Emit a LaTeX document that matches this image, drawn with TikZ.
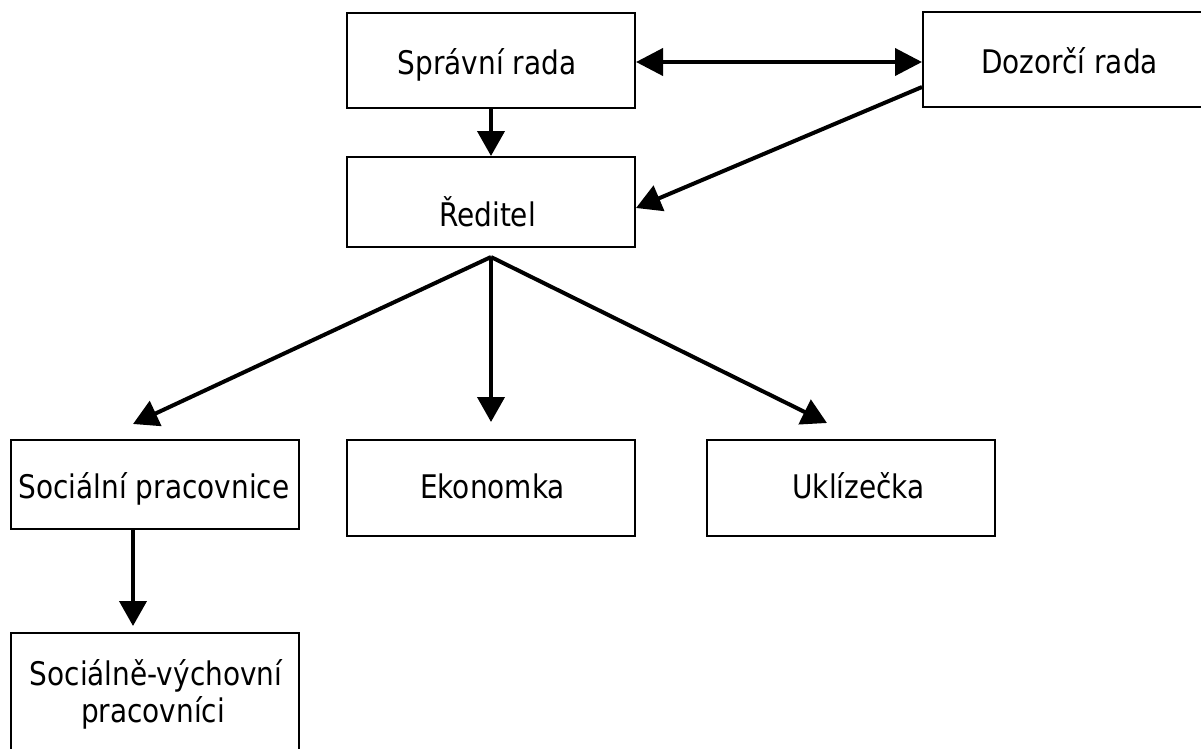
\documentclass[tikz,border=0pt]{standalone}
\usepackage{fontspec}
\setmainfont{DejaVu Sans}[FakeStretch=0.86]
\usetikzlibrary{arrows.meta,calc}
\begin{document}
\begin{tikzpicture}[x=1pt,y=-1pt,
  box/.style={draw, line width=2pt, rectangle, inner sep=0pt, minimum width=288pt},
  txt/.style={anchor=base, inner sep=0pt, font=\fontsize{32.5}{37}\selectfont},
  arr/.style={line width=4pt, -{Triangle[length=25pt,width=27pt]}},
  darr/.style={line width=4pt, {Triangle[length=27pt,width=27pt]}-{Triangle[length=27pt,width=27pt]}}]
\fill[white] (0,0) rectangle (1201,748);
\useasboundingbox (0,0) rectangle (1201,748);
\clip (0,0) rectangle (1201,748);
% boxes
\node[box, minimum height=95pt] (spr) at (491,60.5) {};
\node[box, minimum width=293pt, minimum height=95pt] (dozor) at (1069.5,59.5) {};
\node[box, minimum height=90pt] (red) at (491,202) {};
\node[box, minimum height=89pt] (soc) at (155,484.5) {};
\node[box, minimum height=96pt] (eko) at (491,488) {};
\node[box, minimum height=96pt] (ukl) at (851,488) {};
\node[box, minimum height=140pt] (sv) at (155,703) {};
% texts
\node[txt] (sprT) at (487,74) {Správní rada};
\node[txt] (dozorT) at (1069.5,73) {Dozorčí rada};
\node[txt] (redT) at (487.5,226) {Ředitel};
\node[txt] (socT) at (154,498) {Sociální pracovnice};
\node[txt] (ekoT) at (492.5,498) {Ekonomka};
\node[txt] (uklT) at (858.5,498) {Uklízečka};
\node[txt] (svT1) at (156,685) {Sociálně-výchovní};
\node[txt] (svT2) at (153,722) {pracovníci};
% connectors
\draw[darr] ($(spr.east)+(0,1.5)$) -- ($(dozor.west)+(0,2.5)$);
\draw[arr] (spr.south) -- (red.north);
\draw[arr] ($(dozor.west)+(0,27.5)$) -- ($(red.east)+(0,6)$);
\coordinate (fan) at ($(red.south)+(0,9)$);
\draw[arr] (fan) -- ($(soc.north)+(-22,-15)$);
\draw[arr] (fan) -- ($(eko.north)+(0,-17)$);
\draw[arr] (fan) -- ($(ukl.north)+(-24,-16)$);
\draw[arr] ($(soc.south)+(-22,0)$) -- ($(sv.north)+(-22,-6)$);
\end{tikzpicture}
\end{document}
